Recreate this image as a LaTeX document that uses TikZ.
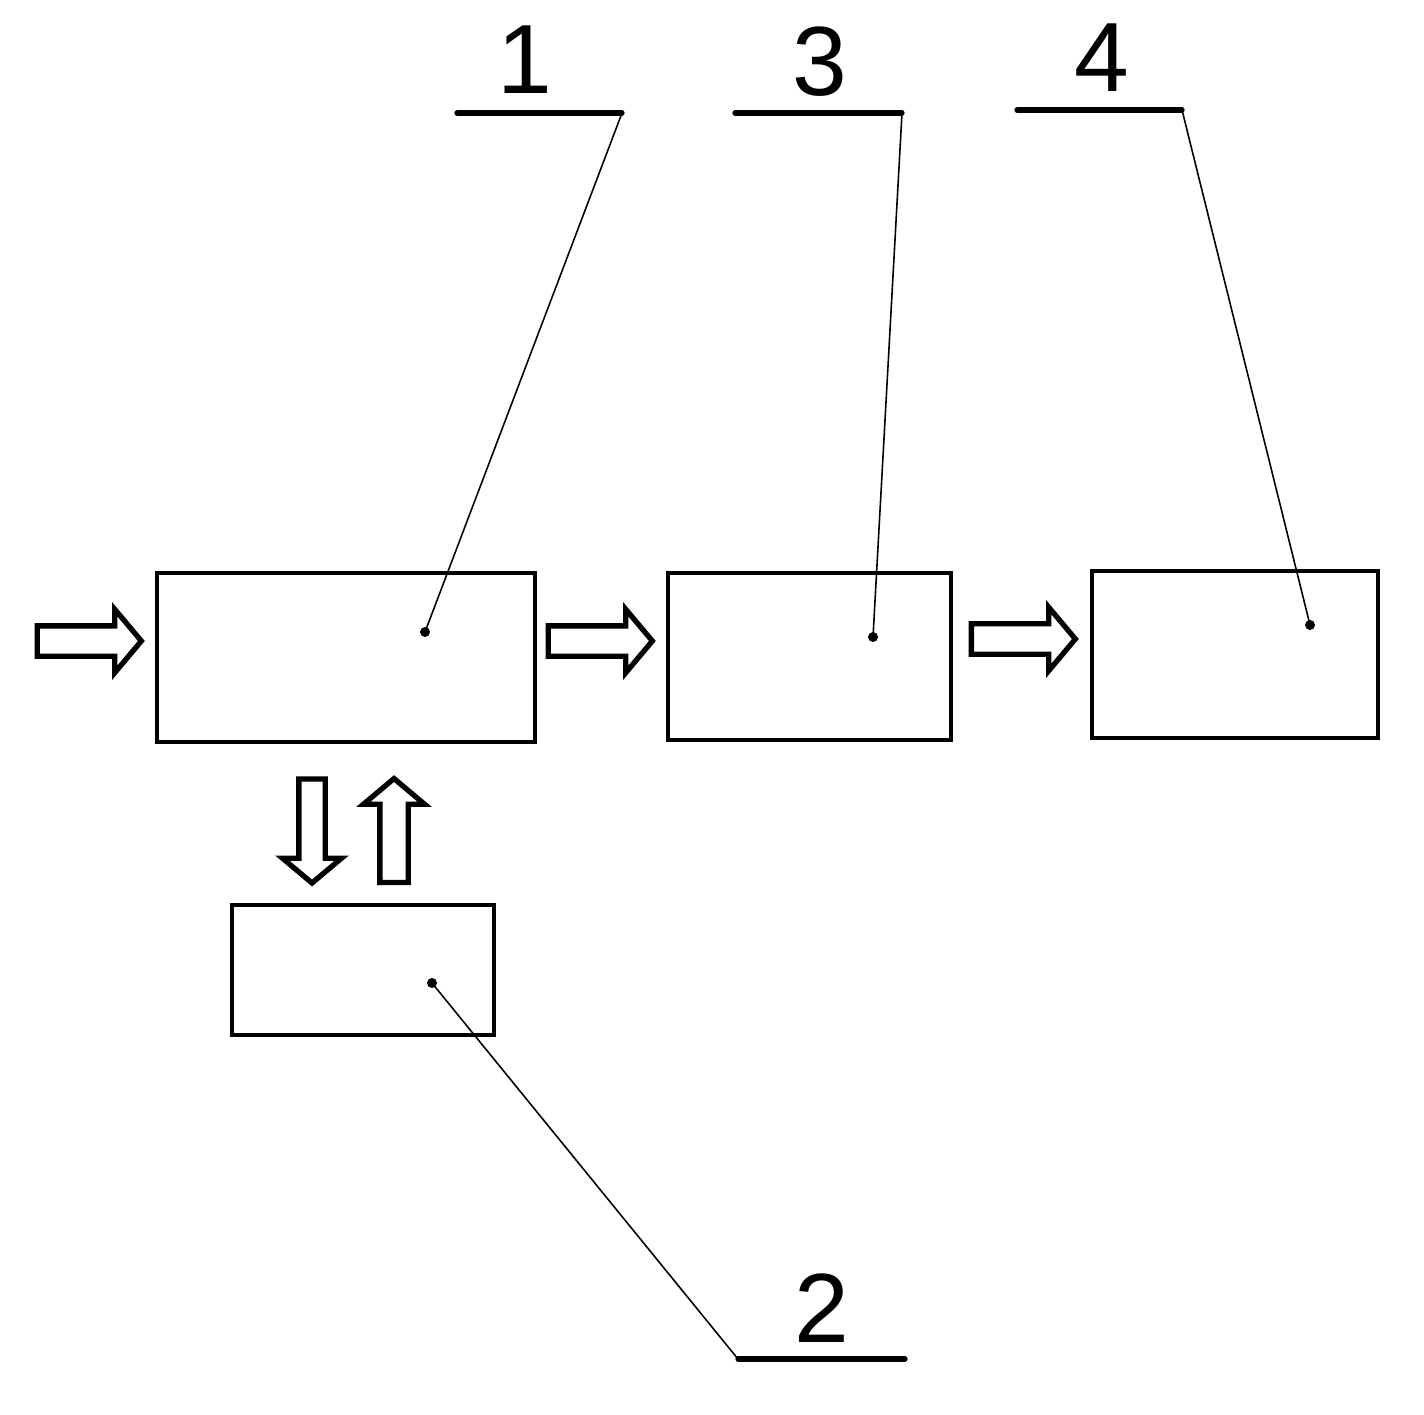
\documentclass[tikz,border=0pt]{standalone}
\usepackage{fontspec}
\setmainfont{Liberation Sans}
\usetikzlibrary{shapes.arrows}

\tikzset{
  block/.style={draw, line width=1.2pt, inner sep=0pt},
  hollow/.style={single arrow, draw, line width=1.5pt, inner sep=0pt,
    text height=0.25cm, text depth=0pt,
    minimum height=1.04cm,
    single arrow head extend=0.165cm, single arrow tip angle=100},
  leader/.style={line width=0.45pt},
  underline/.style={line width=1.5pt, line cap=round},
  tag/.style={font=\fontsize{28}{30}\selectfont, inner sep=0pt},
}

\begin{document}
\begin{tikzpicture}
      \useasboundingbox (0,0) rectangle (14.24,14.14);

      % blocks
      \node[block, minimum width=3.78cm, minimum height=1.69cm] (b1) at (3.46, 7.565) {};
      \node[block, minimum width=2.83cm, minimum height=1.67cm] (b3) at (8.095, 7.575) {};
      \node[block, minimum width=2.86cm, minimum height=1.67cm] (b4) at (12.35, 7.595) {};
      \node[block, minimum width=2.62cm, minimum height=1.30cm] (b2) at (3.63, 4.44) {};

      % hollow arrows
      \node[hollow] (in) at (0.83, 7.73) {};
      \node[hollow] (a13) at (5.94, 7.73) {};
      \node[hollow] (a34) at (10.17, 7.75) {};
      \node[hollow, rotate=-90, text height=0.21cm] (a12) at (3.12, 5.885) {};
      \node[hollow, rotate=90, text height=0.23cm] (a21) at (3.94, 5.775) {};

      % dots
      \coordinate (d1) at (4.25, 7.82);
      \coordinate (d3) at (8.73, 7.77);
      \coordinate (d4) at (13.10, 7.89);
      \coordinate (d2) at (4.32, 4.31);
      \foreach \d in {d1, d3, d4, d2}
        \fill (\d) circle (0.05);

      % labels
      \node[tag] (t1) at (5.25, 13.54) {1};
      \node[tag] (t3) at (8.20, 13.52) {3};
      \node[tag] (t4) at (11.02, 13.56) {4};
      \node[tag] (t2) at (8.22, 1.06) {2};

      \coordinate (u1l) at (4.57, 13.01);
      \coordinate (u1r) at (6.22, 13.01);
      \coordinate (u3l) at (7.35, 13.01);
      \coordinate (u3r) at (9.02, 13.01);
      \coordinate (u4l) at (10.17, 13.04);
      \coordinate (u4r) at (11.82, 13.04);
      \coordinate (u2l) at (7.38, 0.55);
      \coordinate (u2r) at (9.05, 0.55);

      \draw[underline] (u1l) -- (u1r);
      \draw[underline] (u3l) -- (u3r);
      \draw[underline] (u4l) -- (u4r);
      \draw[underline] (u2l) -- (u2r);

      % leaders
      \draw[leader] (u1r) -- (d1);
      \draw[leader] (u3r) -- (d3);
      \draw[leader] (u4r) -- (d4);
      \draw[leader] (u2l) -- (d2);
\end{tikzpicture}
\end{document}
